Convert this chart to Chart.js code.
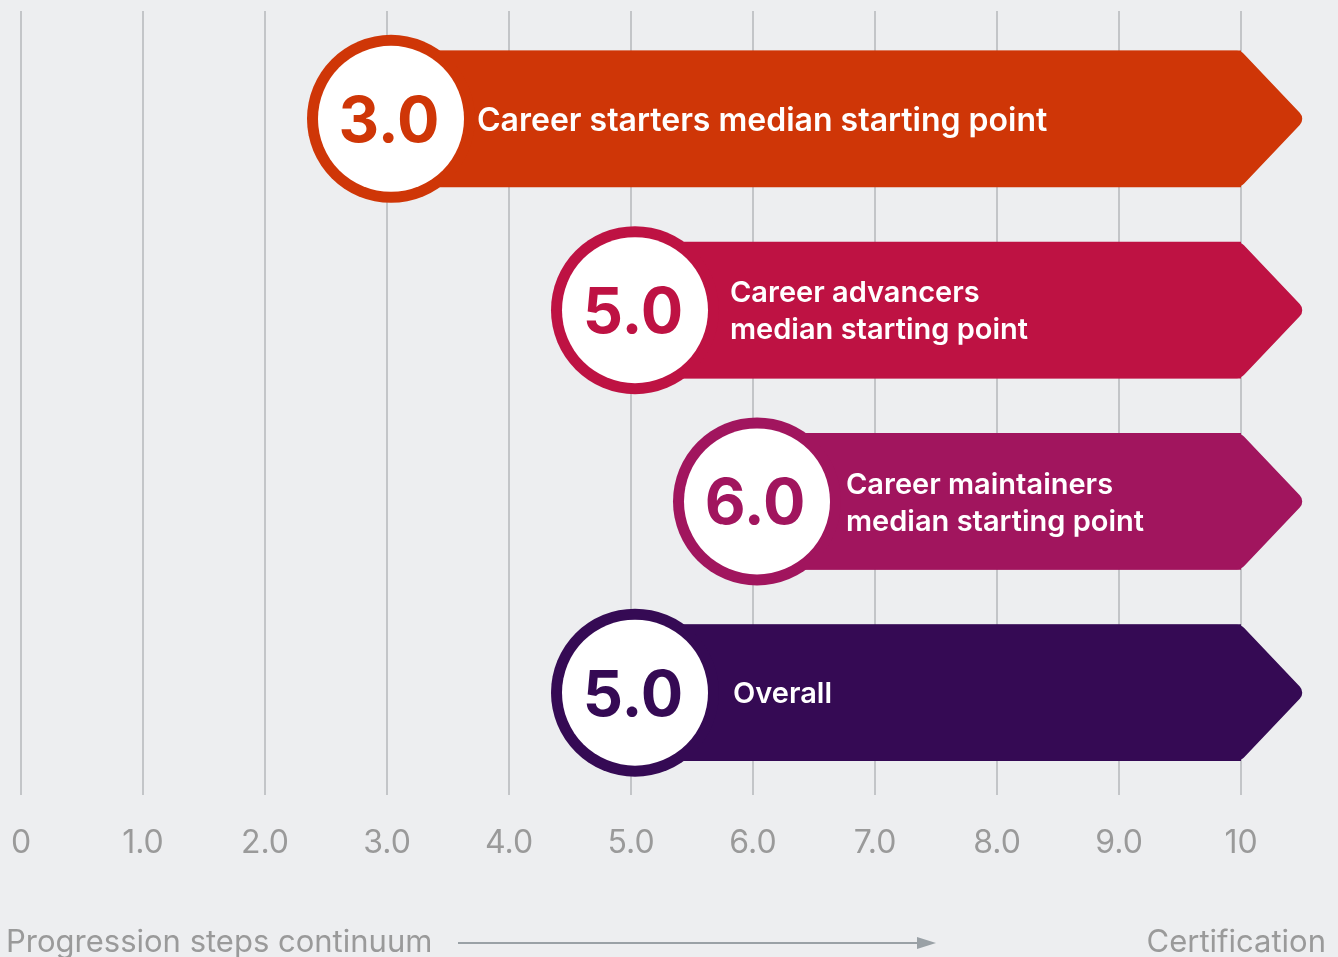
<!DOCTYPE html>
<html>
<head>
<meta charset="utf-8">
<script src="https://cdn.jsdelivr.net/npm/chart.js@4/dist/chart.umd.min.js"></script>
<style>
  html, body { margin: 0; padding: 0; background: #edeef0; }
  canvas { display: block; }
</style>
</head>
<body>
<canvas id="progressChart" width="1338" height="957"></canvas>
<script>
const categories = [
    ['Career starters median starting point'],
    ['Career advancers', 'median starting point'],
    ['Career maintainers', 'median starting point'],
    ['Overall']
];
const startingPoints = [3.0, 5.0, 6.0, 5.0];
const endPoint = 10;
const tickLabels = ['0', '1.0', '2.0', '3.0', '4.0', '5.0', '6.0', '7.0', '8.0', '9.0', '10'];
const barColors = ['#cf3607', '#be1243', '#a1155e', '#350a54'];

Chart.defaults.font.family = 'Inter, "Noto Sans", sans-serif';

// arrow heads, circles with the value, and the in-bar labels
const arrowBadges = {
    id: 'arrowBadges',
    afterDatasetsDraw(chart, args, opts) {
        const ctx = chart.ctx;
        const xs = chart.scales.x;
        const meta = chart.getDatasetMeta(0);
        const tip = xs.getPixelForValue(endPoint + 0.53);
        meta.data.forEach((bar, i) => {
            const color = barColors[i];
            const top = bar.y - bar.height / 2;
            const bottom = bar.y + bar.height / 2;
            const start = bar.base;
            const end = bar.x;
            ctx.save();
            ctx.fillStyle = color;
            ctx.beginPath();
            ctx.moveTo(start, top);
            ctx.arcTo(end, top, tip, bar.y, 10);
            ctx.arcTo(tip, bar.y, end, bottom, 9);
            ctx.arcTo(end, bottom, start, bottom, 10);
            ctx.lineTo(start, bottom);
            ctx.closePath();
            ctx.fill();

            const cx = start + 4;
            ctx.beginPath();
            ctx.arc(cx, bar.y, 84, 0, Math.PI * 2);
            ctx.fill();
            ctx.fillStyle = '#ffffff';
            ctx.beginPath();
            ctx.arc(cx, bar.y, 73, 0, Math.PI * 2);
            ctx.fill();

            ctx.fillStyle = color;
            ctx.font = '700 63px Inter';
            ctx.textAlign = 'center';
            ctx.textBaseline = 'alphabetic';
            ctx.fillText(startingPoints[i].toFixed(1), cx - 2, bar.y + 23);

            const lines = categories[i];
            const size = opts.labelSizes[i];
            ctx.fillStyle = '#ffffff';
            ctx.font = '600 ' + size + 'px Inter';
            ctx.textAlign = 'left';
            const lh = size * 1.27;
            const y0 = bar.y + size * 0.37 - (lines.length - 1) * lh / 2;
            lines.forEach((t, k) => ctx.fillText(t, cx + opts.labelOffsets[i], y0 + k * lh));
            ctx.restore();
        });
    },
    afterDraw(chart) {
        const ctx = chart.ctx;
        ctx.save();
        ctx.fillStyle = '#9a9a9a';
        ctx.font = '400 31px Inter';
        ctx.textBaseline = 'alphabetic';
        ctx.textAlign = 'left';
        ctx.fillText('Progression steps continuum', 6, 952);
        ctx.textAlign = 'right';
        ctx.fillText('Certification', 1326, 952);
        ctx.strokeStyle = '#9aa1a6';
        ctx.fillStyle = '#9aa1a6';
        ctx.lineWidth = 2;
        ctx.beginPath();
        ctx.moveTo(458, 943);
        ctx.lineTo(920, 943);
        ctx.stroke();
        ctx.beginPath();
        ctx.moveTo(917, 937);
        ctx.lineTo(936, 943);
        ctx.lineTo(917, 949);
        ctx.closePath();
        ctx.fill();
        ctx.restore();
    }
};

new Chart(document.getElementById('progressChart').getContext('2d'), {
    type: 'bar',
    data: {
        datasets: [{
            data: startingPoints.map((s, i) => ({ x: [s, endPoint], y: i })),
            backgroundColor: barColors,
            barThickness: 136,
            borderWidth: 0
        }]
    },
    options: {
        indexAxis: 'y',
        responsive: false,
        animation: false,
        layout: { padding: { left: 21, right: 97, top: 11, bottom: 97 } },
        plugins: {
            legend: { display: false },
            tooltip: { enabled: false },
            arrowBadges: { labelSizes: [32, 29, 29, 29], labelOffsets: [86, 95, 89, 98] }
        },
        scales: {
            x: {
                type: 'linear',
                min: 0,
                max: 10,
                ticks: {
                    stepSize: 1,
                    padding: 29,
                    maxRotation: 0,
                    color: '#9a9a9a',
                    font: { size: 32, weight: 400 },
                    callback: (v) => tickLabels[v]
                },
                grid: { color: '#c3c5c8', lineWidth: 2, drawTicks: false },
                border: { display: false },
                afterFit: (s) => {
                    s.height = 65;
                    s.paddingLeft = 0;
                    s.paddingRight = 0;
                }
            },
            y: {
                type: 'linear',
                display: false,
                offset: false,
                reverse: true,
                min: -0.564,
                max: 3.535
            }
        }
    },
    plugins: [arrowBadges]
});
</script>
</body>
</html>
